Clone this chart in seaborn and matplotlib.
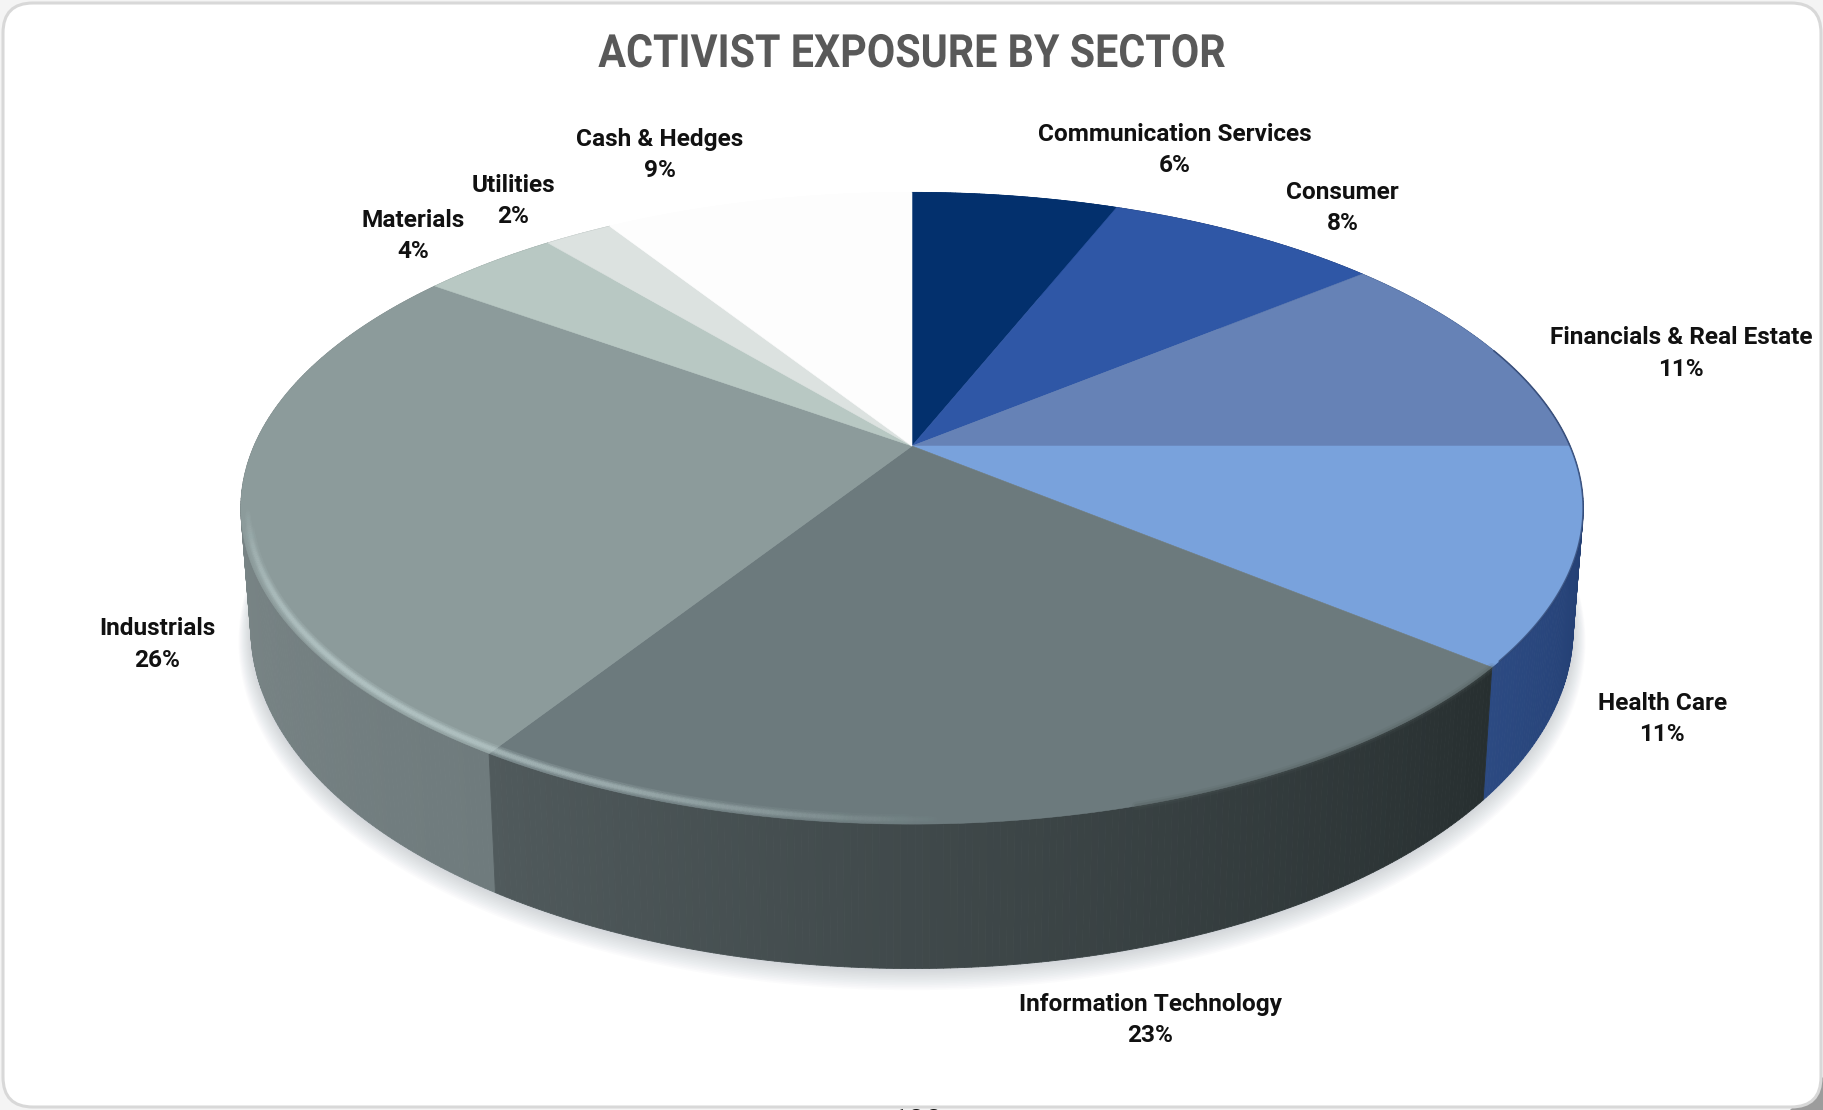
import numpy as np
import matplotlib
matplotlib.use("Agg")
import matplotlib.pyplot as plt
from matplotlib.collections import LineCollection, PolyCollection
from matplotlib.patches import FancyBboxPatch, Polygon
from matplotlib.patheffects import AbstractPathEffect
from matplotlib.transforms import Affine2D
import seaborn as sns

# Sector weights, clockwise from twelve o'clock
sectors = ["Communication Services", "Consumer", "Financials & Real Estate",
           "Health Care", "Information Technology", "Industrials",
           "Materials", "Utilities", "Cash & Hedges"]
weights = [6, 8, 11, 11, 23, 26, 4, 2, 9]

# Styling, one entry per sector
top_colors = ["#03306d", "#2f57a6", "#6682b6", "#79a2dc", "#6c7a7d",
              "#8c9b9b", "#b8c8c3", "#dce2e0", "#fdfdfd"]
side_from = ["#03306d", "#1e3a70", "#2d4b7c", "#1f3a6c", "#272f30",
             "#6f7b7d", "#8f9f9b", "#aab4b2", "#ffffff"]
side_to = ["#03306d", "#1e3a70", "#24406f", "#2c4a82", "#505a5c",
           "#848f8f", "#8f9f9b", "#aab4b2", "#ffffff"]
label_anchor = [(1010, 129), (1154, 179), (1445, 304), (1429, 618), (989, 877),
                (135, 554), (355, 203), (441, 173), (567, 133)]

sns.set_theme(style="white")
plt.rcParams["font.family"] = ["Roboto", "DejaVu Sans"]

W, H = 1824, 1110
fig = plt.figure(figsize=(W / 100, H / 100), dpi=100, facecolor="#f4f4f4")
ax = fig.add_axes([0, 0, 1, 1])
ax.set_xlim(0, W)
ax.set_ylim(H, 0)
ax.axis("off")


class Condensed(AbstractPathEffect):
    """Squeeze glyphs horizontally about a fixed display x position."""

    def __init__(self, x_display, factor):
        super().__init__()
        self.squeeze = Affine2D().translate(-x_display, 0).scale(factor, 1).translate(x_display, 0)

    def draw_path(self, renderer, gc, tpath, affine, rgbFace=None):
        renderer.draw_path(gc, tpath, affine + self.squeeze, rgbFace)


# Perspective projection of the pie disc onto the page
CX, AY, A, B, K = 912.0, 446.0, 658.0, 303.6, 0.197
DEPTH, SHRINK = 116.0, 0.985


def disc(theta, radius=1.0, drop=0.0, shrink=1.0):
    u = radius * np.sin(theta)
    v = -radius * np.cos(theta)
    w = 1 - K * v
    return CX + A * shrink * u / w, AY + (B * v + drop) / w


fractions = np.cumsum([0] + weights) / sum(weights)
angles = 2 * np.pi * fractions
palette = sns.color_palette(top_colors)

# Panel with rounded corners; the lower right corner sits on a darker backing
ax.add_patch(Polygon([(W - 34, H), (W, H), (W, H - 34)], fc="#9c9c9c", ec="none", zorder=0))
ax.add_patch(FancyBboxPatch((3, 3), W - 6, H - 6, boxstyle="round,pad=0,rounding_size=30",
                            fc="white", ec="#d8d8d8", lw=2.2, zorder=0))

# Soft shadow under the pie
ring = np.linspace(0, 2 * np.pi, 361)
for step in np.linspace(1, 0, 14):
    x, y = disc(ring, 1 + 0.018 * step, DEPTH + 10 * step, SHRINK)
    ax.add_patch(Polygon(np.c_[x, y], fc="#8d9aa2", ec="none", alpha=0.032, zorder=1))

# Outer wall, painted back to front
quads, quad_colors = [], []
for i in range(len(weights)):
    if side_from[i] == "#ffffff":
        continue
    n = max(int(np.degrees(angles[i + 1] - angles[i]) * 2), 2)
    t = np.linspace(angles[i], angles[i + 1], n + 1)
    c0 = np.array(matplotlib.colors.to_rgb(side_from[i]))
    c1 = np.array(matplotlib.colors.to_rgb(side_to[i]))
    for j in range(n):
        xa, ya = disc(t[j:j + 2])
        xb, yb = disc(t[j:j + 2], drop=DEPTH, shrink=SHRINK)
        quads.append(np.c_[[xa[0], xa[1], xb[1], xb[0]], [ya[0], ya[1], yb[1], yb[0]]])
        quad_colors.append(c0 + (c1 - c0) * j / max(n - 1, 1))
order = np.argsort([q[:, 1].max() for q in quads])
ax.add_collection(PolyCollection([quads[o] for o in order],
                                 facecolors=[quad_colors[o] for o in order],
                                 edgecolors=[quad_colors[o] for o in order],
                                 linewidths=0.6, zorder=2))

# Top face of every sector
for i, color in enumerate(palette):
    t = np.linspace(angles[i], angles[i + 1], max(int(weights[i] * 8), 8))
    x, y = disc(t)
    outline = np.c_[np.r_[CX, x], np.r_[AY, y]]
    ax.add_patch(Polygon(outline, fc=color, ec=color, lw=0.4, zorder=3))

# Bevel highlight along the front-left rim
t = np.radians(np.linspace(176, 262, 260))
x, y = disc(t, 0.99)
segments = np.stack([np.c_[x[:-1], y[:-1]], np.c_[x[1:], y[1:]]], axis=1)
fade = np.sin(np.linspace(0, np.pi, len(segments))) ** 1.1
for width, strength in [(8, 0.08), (5, 0.13), (3, 0.16)]:
    ax.add_collection(LineCollection(segments, colors=[(0.76, 0.83, 0.83, strength * f) for f in fade],
                                     linewidths=width, capstyle="round", zorder=4))

# Soft dark edge where the right of the face meets the wall
t = np.linspace(angles[2] + 0.35, angles[4] - 0.02, 120)
x, y = disc(t)
ax.plot(x, y, color="#2a3f6a", lw=1.2, alpha=0.7, zorder=4)
t = np.linspace(angles[4], angles[4] + 0.6, 60)
x, y = disc(t)
for width, strength in [(6, 0.12), (3, 0.25)]:
    ax.plot(x, y, color="#4f5a5a", lw=width, alpha=strength, zorder=4)

# Sector labels
for name, share, (lx, ly) in zip(sectors, weights, label_anchor):
    ax.text(lx * 1824 / 1568, ly * 1824 / 1568, f"{name}\n{share}%", ha="center", va="center",
            ma="center", fontsize=17.6, fontweight="bold", color="#111111", linespacing=1.46, zorder=6)

title = ax.text(912, 54, "ACTIVIST EXPOSURE BY SECTOR", ha="center", va="center",
                fontsize=33, fontweight="bold", color="#595959", zorder=6)
title.set_path_effects([Condensed(912, 0.90)])

# Page number running off the lower edge
ax.text(917, 1107, "100", ha="center", va="top", fontsize=22, fontweight="bold",
        color="#111111", zorder=6)

fig.savefig("out.png", dpi=100, facecolor=fig.get_facecolor())
